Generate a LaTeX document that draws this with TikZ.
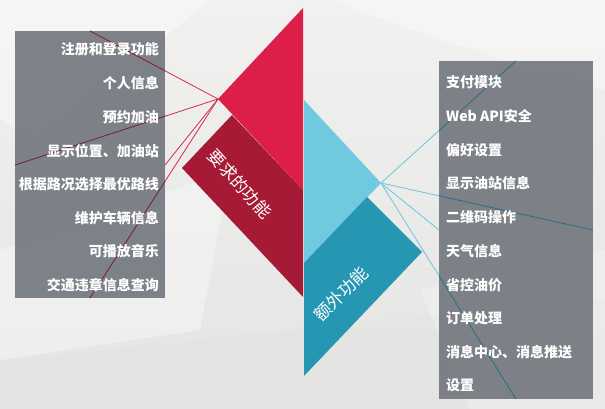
\documentclass[tikz,border=0pt]{standalone}
\usepackage{fontspec}
\setmainfont{Noto Sans CJK SC}
\definecolor{bgtop}{RGB}{241,241,240}
\definecolor{bgbot}{RGB}{228,228,227}
\definecolor{boxgray}{RGB}{110,115,122}
\definecolor{redlight}{RGB}{220,30,72}
\definecolor{reddark}{RGB}{167,26,54}
\definecolor{bluelight}{RGB}{112,201,223}
\definecolor{bluedark}{RGB}{38,151,178}
\definecolor{redln}{RGB}{217,40,78}
\definecolor{redlnin}{RGB}{120,35,58}
\definecolor{blueln}{RGB}{110,196,220}
\definecolor{bluelnin}{RGB}{45,110,135}
\begin{document}
\begin{tikzpicture}[x=1pt,y=-1pt,
  item/.style={text=white,font=\fontsize{14}{16}\selectfont\bfseries,inner sep=0pt},
  band/.style={text=white,font=\fontsize{17}{19}\selectfont,inner sep=0pt},
  redline/.style={draw=redln,line width=0.8pt},
  blueline/.style={draw=blueln,line width=0.8pt},
  panel/.style={fill=boxgray,fill opacity=0.88},
  facet/.style={fill=white,fill opacity=0.35,draw=none}]
\useasboundingbox (0,0) rectangle (605,409);
% background
\shade[top color=bgtop,bottom color=bgbot] (0,0) rectangle (605,409);
\fill[facet] (0,0) -- (210,0) -- (40,140) -- (0,120) -- cycle;
\fill[facet] (330,0) -- (605,0) -- (605,90) -- (440,40) -- cycle;
\fill[facet] (0,250) -- (230,170) -- (200,330) -- (0,360) -- cycle;
\fill[bgbot,opacity=0.6] (0,362) -- (303,328) -- (605,300) -- (605,409) -- (0,409) -- cycle;
\fill[facet,fill opacity=0.25] (420,290) -- (605,250) -- (605,409) -- (470,409) -- cycle;
% apex coordinates
\coordinate (L) at (218,99);
\coordinate (R) at (381,183);
\coordinate (l1) at (90,31);
\coordinate (l2) at (15,165);
\coordinate (l3) at (165,165);
\coordinate (l4) at (90,298);
\coordinate (r1) at (516,61);
\coordinate (r2) at (593,230);
\coordinate (r3) at (439,230);
\coordinate (r4) at (516,399);
% connectors
\draw[redline] (L) -- (l1);
\draw[redline] (L) -- (l2);
\draw[redline] (L) -- (l3);
\draw[redline] (L) -- (l4);
\draw[blueline] (R) -- (r1);
\draw[blueline] (R) -- (r2);
\draw[blueline] (R) -- (r3);
\draw[blueline] (R) -- (r4);
% panels
\fill[panel] (15,31) rectangle (165,298);
\fill[panel] (439,61) rectangle (593,399);
\begin{scope}
\clip (15,31) rectangle (165,298);
\draw[redline,draw=redlnin] (L) -- (l1);
\draw[redline,draw=redlnin] (L) -- (l2);
\draw[redline,draw=redlnin] (L) -- (l4);
\end{scope}
\begin{scope}
\clip (439,61) rectangle (593,399);
\draw[blueline,draw=bluelnin] (R) -- (r1);
\draw[blueline,draw=bluelnin] (R) -- (r2);
\draw[blueline,draw=bluelnin] (R) -- (r4);
\end{scope}
% red shape
\fill[redlight] (303,8) -- (218,99) -- (303,190) -- cycle;
\fill[reddark] (182,168) -- (232,115) -- (303,190) -- (303,297) -- cycle;
% blue shape
\fill[bluelight] (304,100) -- (381,183) -- (304,263) -- cycle;
\fill[bluedark] (304,263) -- (367,197) -- (422,252) -- (304,376) -- cycle;
\node[band,rotate=-48] (req) at (240,184) {要求的功能};
\node[band,rotate=44] (ext) at (341,294) {额外功能};
% left items
\node[item,anchor=east] (a1) at (159,49) {注册和登录功能};
\node[item,anchor=east] (a2) at (159,83) {个人信息};
\node[item,anchor=east] (a3) at (159,117) {预约加油};
\node[item,anchor=east] (a4) at (159,151) {显示位置、加油站};
\node[item,anchor=east] (a5) at (159,184) {根据路况选择最优路线};
\node[item,anchor=east] (a6) at (159,218) {维护车辆信息};
\node[item,anchor=east] (a7) at (159,251) {可播放音乐};
\node[item,anchor=east] (a8) at (159,285) {交通违章信息查询};
% right items
\node[item,anchor=west] (b1) at (446,82) {支付模块};
\node[item,anchor=west] (b2) at (446,116) {Web API安全};
\node[item,anchor=west] (b3) at (446,150) {偏好设置};
\node[item,anchor=west] (b4) at (446,183) {显示油站信息};
\node[item,anchor=west] (b5) at (446,217) {二维码操作};
\node[item,anchor=west] (b6) at (446,251) {天气信息};
\node[item,anchor=west] (b7) at (446,285) {省控油价};
\node[item,anchor=west] (b8) at (446,318) {订单处理};
\node[item,anchor=west] (b9) at (446,352) {消息中心、消息推送};
\node[item,anchor=west] (b10) at (446,385) {设置};
\end{tikzpicture}
\end{document}
